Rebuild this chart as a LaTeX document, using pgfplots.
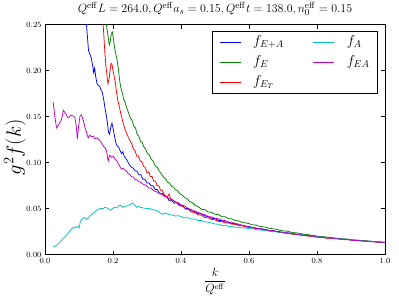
\documentclass[border=0pt]{standalone}
\usepackage{pgfplots}
\pgfplotsset{compat=1.18}
\definecolor{mgreen}{rgb}{0,0.5,0}
\definecolor{mcyan}{rgb}{0,0.75,0.75}
\definecolor{mmag}{rgb}{0.75,0,0.75}
\begin{document}
\begin{tikzpicture}
\begin{axis}[
  name=ax, scale only axis, width=340bp, height=230bp,
  xmin=0, xmax=1, ymin=0, ymax=0.25,
  xtick={0,0.2,0.4,0.6,0.8,1.0}, ytick={0,0.05,0.10,0.15,0.20,0.25},
  tick align=inside, major tick length=4bp,
  axis line style={line width=1bp, black},
  every tick/.style={black, line width=0.6bp},
  xticklabel style={font=\fontsize{8.3}{9}\selectfont, /pgf/number format/.cd, fixed, fixed zerofill, precision=1},
  yticklabel style={font=\fontsize{8.3}{9}\selectfont, /pgf/number format/.cd, fixed, fixed zerofill, precision=2},
  scaled y ticks=false, scaled x ticks=false,
  title={$Q^{\mathrm{eff}}L=264.0,Q^{\mathrm{eff}}a_s=0.15,Q^{\mathrm{eff}}t=138.0,n_0^{\mathrm{eff}}=0.15$},
  title style={font=\fontsize{13}{15}\selectfont, inner sep=2bp, yshift=1bp},
  xlabel={$\displaystyle\frac{k}{Q^{\mathrm{eff}}}$},
  xlabel style={font=\fontsize{12}{14}\selectfont, at={(axis description cs:0.5,-0.117)}, anchor=center},
  ylabel={$g^2 f(k)$},
  ylabel style={font=\fontsize{21}{24}\selectfont, at={(axis description cs:-0.088,0.467)}, anchor=center},
  legend columns=2,
  legend cell align=left,
  legend image code/.code={\draw[#1, line width=1bp] (0bp,0bp) -- (21bp,0bp);},
  legend style={at={(0.9794,0.974)}, anchor=north east, draw=black, line width=0.8bp,
    font=\fontsize{14}{14}\selectfont, inner xsep=7bp, inner ysep=3bp,
    nodes={inner sep=1bp, text height=10bp, text depth=4bp},
    row sep=4bp,
    /tikz/every odd column/.append style={column sep=11bp},
    /tikz/every even column/.append style={column sep=28bp}},
  every axis plot/.append style={line width=0.75bp},
]
% f_{E+A}
\addplot[blue, forget plot] coordinates {
(0.100,0.320)(0.110,0.285)(0.118,0.262)(0.122,0.250)(0.125,0.236)(0.128,0.222)(0.132,0.218)(0.136,0.214)
(0.140,0.206)(0.143,0.198)(0.146,0.203)(0.149,0.194)(0.153,0.186)(0.157,0.184)(0.161,0.183)(0.165,0.179)
(0.169,0.176)(0.173,0.168)(0.177,0.158)(0.181,0.150)(0.184,0.142)(0.187,0.133)(0.190,0.131)(0.193,0.138)
(0.197,0.143)(0.201,0.136)(0.205,0.128)(0.209,0.121)(0.213,0.118)(0.217,0.117)(0.221,0.113)(0.225,0.110)
(0.229,0.112)(0.233,0.107)(0.237,0.105)(0.241,0.103)(0.245,0.100)
(0.250,0.097)(0.255,0.095)(0.260,0.094)(0.265,0.091)(0.270,0.091)(0.276,0.087)(0.282,0.087)(0.288,0.082)
(0.294,0.082)(0.300,0.078)(0.306,0.078)(0.312,0.075)(0.318,0.075)(0.324,0.071)(0.330,0.071)(0.337,0.067)
(0.344,0.067)(0.351,0.064)(0.358,0.063)(0.365,0.059)(0.372,0.0595)(0.380,0.056)(0.388,0.0565)(0.396,0.053)
(0.404,0.0535)(0.412,0.0505)(0.420,0.0502)(0.430,0.0475)(0.440,0.0472)(0.450,0.0448)(0.460,0.0443)(0.470,0.0422)
(0.480,0.0414)(0.490,0.0396)(0.500,0.0393)(0.510,0.0374)(0.520,0.0372)(0.530,0.0356)(0.540,0.0353)(0.550,0.0341)
(0.560,0.0338)(0.570,0.0324)(0.580,0.0321)(0.590,0.0309)
(0.60,0.0307)(0.61,0.0295)(0.62,0.0292)(0.63,0.0282)(0.64,0.0281)(0.65,0.0273)(0.66,0.0265)(0.67,0.0264)
(0.68,0.0255)(0.69,0.0252)(0.70,0.0241)(0.71,0.0240)(0.72,0.0236)(0.73,0.0227)(0.74,0.0224)(0.75,0.0222)
(0.76,0.0214)(0.77,0.0208)(0.78,0.0208)(0.79,0.0202)(0.80,0.0194)(0.81,0.0195)(0.82,0.0189)(0.83,0.0187)
(0.84,0.0181)(0.85,0.0182)(0.86,0.0176)(0.87,0.0170)(0.88,0.0170)(0.89,0.0168)(0.90,0.0161)(0.91,0.0156)
(0.92,0.0158)(0.93,0.0154)(0.94,0.0152)(0.95,0.0146)(0.96,0.0147)(0.97,0.0141)(0.98,0.0141)(0.99,0.0135)
(1.00,0.0134)
};
% f_E
\addplot[mgreen, forget plot] coordinates {
(0.170,0.300)(0.176,0.270)(0.180,0.252)(0.183,0.244)(0.186,0.236)(0.189,0.228)(0.192,0.232)(0.195,0.240)
(0.198,0.242)(0.201,0.235)(0.204,0.227)(0.207,0.220)(0.211,0.214)(0.214,0.207)(0.217,0.198)(0.220,0.188)
(0.223,0.182)(0.227,0.176)(0.231,0.170)(0.235,0.166)(0.239,0.161)(0.243,0.157)(0.247,0.153)
(0.251,0.149)(0.256,0.146)(0.261,0.140)(0.266,0.138)(0.271,0.131)(0.276,0.129)(0.281,0.123)(0.286,0.122)
(0.291,0.117)(0.296,0.115)(0.301,0.110)(0.306,0.109)(0.312,0.104)(0.318,0.102)(0.324,0.097)(0.330,0.095)
(0.336,0.091)(0.342,0.088)(0.348,0.0845)(0.354,0.083)(0.360,0.079)(0.366,0.078)(0.372,0.0745)(0.378,0.0735)
(0.384,0.0705)(0.390,0.0695)(0.396,0.0665)(0.402,0.0655)(0.410,0.0625)(0.418,0.061)(0.426,0.0575)(0.434,0.0565)
(0.442,0.0535)(0.450,0.0525)(0.460,0.0495)(0.470,0.049)(0.480,0.0465)(0.490,0.046)(0.500,0.044)(0.510,0.0437)
(0.520,0.0415)(0.530,0.0413)(0.540,0.0393)(0.550,0.039)(0.560,0.0372)(0.570,0.0368)(0.580,0.035)(0.590,0.0347)
(0.60,0.0338)(0.61,0.0326)(0.62,0.0323)(0.63,0.0310)(0.64,0.0305)(0.65,0.0299)(0.66,0.0287)(0.67,0.0283)
(0.68,0.0278)(0.69,0.0268)(0.70,0.0260)(0.71,0.0258)(0.72,0.0249)(0.73,0.0241)(0.74,0.0238)(0.75,0.0233)
(0.76,0.0223)(0.77,0.0221)(0.78,0.0215)(0.79,0.0211)(0.80,0.0203)(0.81,0.0197)(0.82,0.0197)(0.83,0.0191)
(0.84,0.0188)(0.85,0.0180)(0.86,0.0181)(0.87,0.0174)(0.88,0.0171)(0.89,0.0170)(0.90,0.0162)(0.91,0.0161)
(0.92,0.0157)(0.93,0.0154)(0.94,0.0154)(0.95,0.0148)(0.96,0.0146)(0.97,0.0144)(0.98,0.0140)(0.99,0.0138)
(1.00,0.0135)
};
% f_{E_T}
\addplot[red, forget plot] coordinates {
(0.160,0.300)(0.168,0.262)(0.172,0.245)(0.176,0.220)(0.179,0.206)(0.182,0.196)(0.185,0.186)(0.188,0.190)
(0.191,0.199)(0.194,0.208)(0.197,0.207)(0.200,0.200)(0.203,0.195)(0.206,0.189)(0.210,0.178)(0.214,0.168)
(0.218,0.162)(0.222,0.155)(0.226,0.149)(0.230,0.143)(0.234,0.138)(0.238,0.134)(0.242,0.130)(0.246,0.127)
(0.250,0.124)(0.255,0.121)(0.260,0.115)(0.265,0.113)(0.270,0.107)(0.275,0.107)(0.280,0.102)(0.285,0.101)
(0.290,0.096)(0.295,0.095)(0.300,0.089)(0.305,0.090)(0.310,0.085)(0.315,0.085)(0.320,0.080)(0.325,0.080)
(0.330,0.075)(0.335,0.075)(0.340,0.070)(0.345,0.070)(0.350,0.066)(0.355,0.0635)(0.360,0.063)(0.365,0.066)
(0.370,0.0605)(0.376,0.0595)(0.382,0.0575)(0.390,0.0565)(0.398,0.0535)(0.406,0.0525)(0.414,0.0495)(0.422,0.0495)
(0.430,0.0465)(0.440,0.0460)(0.450,0.0435)(0.460,0.0430)(0.470,0.0405)(0.480,0.0402)(0.490,0.0384)(0.500,0.0380)
(0.510,0.0362)(0.520,0.0360)(0.530,0.0347)(0.540,0.0344)(0.550,0.0332)(0.560,0.0330)(0.570,0.0317)(0.580,0.0314)
(0.590,0.0302)
(0.60,0.0298)(0.61,0.0294)(0.62,0.0283)(0.63,0.0281)(0.64,0.0274)(0.65,0.0270)(0.66,0.0260)(0.67,0.0257)
(0.68,0.0254)(0.69,0.0243)(0.70,0.0239)(0.71,0.0233)(0.72,0.0231)(0.73,0.0221)(0.74,0.0220)(0.75,0.0216)
(0.76,0.0208)(0.77,0.0206)(0.78,0.0200)(0.79,0.0199)(0.80,0.0190)(0.81,0.0188)(0.82,0.0186)(0.83,0.0179)
(0.84,0.0180)(0.85,0.0173)(0.86,0.0173)(0.87,0.0172)(0.88,0.0163)(0.89,0.0164)(0.90,0.0161)(0.91,0.0156)
(0.92,0.0156)(0.93,0.0150)(0.94,0.0149)(0.95,0.0147)(0.96,0.0142)(0.97,0.0142)(0.98,0.0136)(0.99,0.0136)
(1.00,0.0133)
};
% f_A
\addplot[mcyan, forget plot] coordinates {
(0.024,0.0085)(0.030,0.0095)(0.036,0.0110)(0.042,0.0130)(0.048,0.0155)(0.054,0.0180)(0.060,0.0200)(0.066,0.0225)
(0.072,0.0255)(0.078,0.0280)(0.084,0.0300)(0.090,0.0295)(0.096,0.0310)(0.100,0.0290)(0.104,0.0360)(0.110,0.0395)
(0.116,0.0405)(0.122,0.0385)(0.128,0.0400)(0.134,0.0430)(0.140,0.0445)(0.146,0.0465)(0.152,0.0485)(0.158,0.0495)
(0.164,0.0505)(0.170,0.0500)(0.176,0.0515)(0.182,0.0510)(0.188,0.0495)(0.192,0.0485)(0.198,0.0500)(0.204,0.0515)
(0.210,0.0510)(0.216,0.0530)(0.222,0.0540)(0.228,0.0515)(0.234,0.0525)(0.240,0.0530)(0.246,0.0540)(0.252,0.0550)
(0.258,0.0560)(0.264,0.0540)(0.270,0.0515)(0.276,0.0525)(0.282,0.0515)(0.288,0.0510)(0.294,0.0505)(0.300,0.0500)
(0.308,0.0505)(0.316,0.0490)(0.324,0.0485)(0.332,0.0475)(0.340,0.0450)(0.346,0.0440)(0.352,0.0455)(0.360,0.0445)
(0.368,0.0435)(0.376,0.0430)(0.384,0.0420)(0.392,0.0425)
(0.400,0.0415)(0.410,0.0402)(0.420,0.0404)(0.430,0.0388)(0.440,0.0389)(0.450,0.0373)(0.460,0.0372)(0.470,0.0358)
(0.480,0.0354)(0.490,0.0346)(0.500,0.0334)(0.510,0.0332)(0.520,0.0319)(0.530,0.0320)(0.540,0.0309)(0.550,0.0307)
(0.560,0.0299)(0.570,0.0298)(0.580,0.0291)(0.590,0.0291)
(0.60,0.0284)(0.61,0.0282)(0.62,0.0275)(0.63,0.0269)(0.64,0.0267)(0.65,0.0264)(0.66,0.0256)(0.67,0.0250)
(0.68,0.0249)(0.69,0.0244)(0.70,0.0241)(0.71,0.0234)(0.72,0.0229)(0.73,0.0229)(0.74,0.0222)(0.75,0.0219)
(0.76,0.0213)(0.77,0.0211)(0.78,0.0208)(0.79,0.0200)(0.80,0.0197)(0.81,0.0191)(0.82,0.0192)(0.83,0.0187)
(0.84,0.0182)(0.85,0.0177)(0.86,0.0178)(0.87,0.0172)(0.88,0.0170)(0.89,0.0165)(0.90,0.0160)(0.91,0.0160)
(0.92,0.0158)(0.93,0.0154)(0.94,0.0150)(0.95,0.0149)(0.96,0.0143)(0.97,0.0143)(0.98,0.0140)(0.99,0.0136)
(1.00,0.0134)
};
% f_{EA}
\addplot[mmag, forget plot] coordinates {
(0.024,0.166)(0.029,0.150)(0.034,0.138)(0.040,0.141)(0.047,0.146)(0.051,0.151)(0.054,0.157)(0.060,0.154)
(0.067,0.149)(0.072,0.150)(0.076,0.152)(0.082,0.151)(0.088,0.149)(0.092,0.140)(0.095,0.126)(0.099,0.140)
(0.103,0.151)(0.107,0.152)(0.110,0.149)(0.114,0.144)(0.118,0.138)(0.122,0.133)(0.127,0.127)(0.132,0.130)
(0.137,0.128)(0.142,0.129)(0.147,0.126)(0.152,0.127)(0.157,0.126)(0.162,0.124)(0.167,0.121)(0.172,0.118)
(0.177,0.116)(0.181,0.113)(0.184,0.105)(0.186,0.102)(0.189,0.107)(0.191,0.108)(0.196,0.106)(0.201,0.107)
(0.206,0.104)(0.211,0.102)(0.216,0.099)(0.220,0.096)(0.225,0.093)(0.230,0.094)(0.235,0.092)(0.240,0.091)
(0.245,0.088)
(0.250,0.087)(0.255,0.0845)(0.260,0.0845)(0.265,0.0815)(0.270,0.0815)(0.276,0.0795)(0.282,0.0785)(0.290,0.0765)
(0.298,0.0755)(0.305,0.0725)(0.312,0.0725)(0.320,0.0695)(0.328,0.0685)(0.336,0.0665)(0.344,0.0655)(0.352,0.0635)
(0.360,0.0625)(0.368,0.0605)(0.376,0.0595)(0.384,0.0575)(0.392,0.0565)(0.400,0.0545)(0.410,0.0532)(0.420,0.0505)
(0.430,0.0492)(0.440,0.0475)(0.450,0.0462)(0.460,0.0445)(0.470,0.0437)(0.480,0.0415)(0.490,0.0412)(0.500,0.0395)
(0.510,0.0392)(0.520,0.0376)(0.530,0.0372)(0.540,0.0355)(0.550,0.0352)(0.560,0.0339)(0.570,0.0334)(0.580,0.0319)
(0.590,0.0313)
(0.60,0.0302)(0.61,0.0297)(0.62,0.0287)(0.63,0.0284)(0.64,0.0279)(0.65,0.0270)(0.66,0.0263)(0.67,0.0261)
(0.68,0.0254)(0.69,0.0247)(0.70,0.0244)(0.71,0.0235)(0.72,0.0233)(0.73,0.0227)(0.74,0.0224)(0.75,0.0216)
(0.76,0.0211)(0.77,0.0209)(0.78,0.0206)(0.79,0.0199)(0.80,0.0193)(0.81,0.0192)(0.82,0.0189)(0.83,0.0182)
(0.84,0.0181)(0.85,0.0179)(0.86,0.0173)(0.87,0.0171)(0.88,0.0165)(0.89,0.0166)(0.90,0.0160)(0.91,0.0156)
(0.92,0.0155)(0.93,0.0150)(0.94,0.0151)(0.95,0.0146)(0.96,0.0142)(0.97,0.0141)(0.98,0.0137)(0.99,0.0136)
(1.00,0.0134)
};
\addlegendimage{blue}\addlegendentry{$f_{E+A}$}
\addlegendimage{mcyan}\addlegendentry{$f_{A}$}
\addlegendimage{mgreen}\addlegendentry{$f_{E}$}
\addlegendimage{mmag}\addlegendentry{$f_{EA}$}
\addlegendimage{red}\addlegendentry{$f_{E_T}$}
\end{axis}
\path ([shift={(-45bp,-45bp)}]ax.south west) rectangle ([shift={(14bp,24bp)}]ax.north east);
\end{tikzpicture}
\end{document}
